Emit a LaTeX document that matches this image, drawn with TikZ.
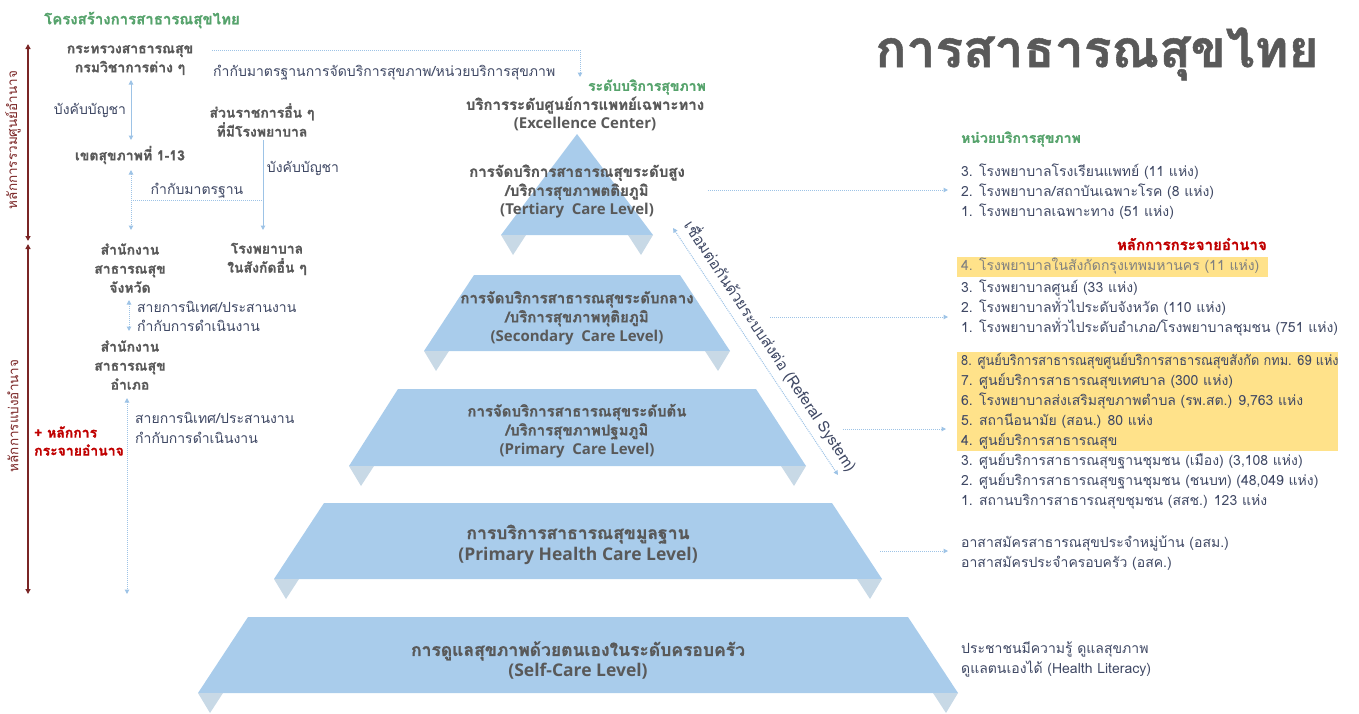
\documentclass[tikz,border=0pt]{standalone}
\usepackage{fontspec}
\newfontfamily\thai[Script=Thai, BoldFeatures={FakeBold=1}]{Loma}
\newfontfamily\latsans{Open Sans}
\usetikzlibrary{arrows.meta}
\definecolor{tierblue}{HTML}{A9CCEB}
\definecolor{tabblue}{HTML}{C8D9E6}
\definecolor{linkblue}{HTML}{9DC3E6}
\definecolor{boldgray}{HTML}{595959}
\definecolor{slate}{HTML}{3F4864}
\definecolor{softgray}{HTML}{808080}
\definecolor{headgreen}{HTML}{56A36C}
\definecolor{headred}{HTML}{C00000}
\definecolor{axisred}{HTML}{7A2525}
\definecolor{marker}{HTML}{FFE28A}
\newcommand{\eng}[1]{{\latsans #1}}
\tikzset{
  every node/.style={inner sep=0pt},
  unitbold/.style={font=\thai\bfseries\fontsize{14}{19}\selectfont, text=boldgray, align=center},
  tiertext/.style={font=\thai\bfseries\fontsize{15}{19}\selectfont, text=boldgray, align=center},
  tierbig/.style={font=\thai\bfseries\fontsize{17.5}{21}\selectfont, text=boldgray, align=center},
  note/.style={font=\thai\fontsize{14}{19.5}\selectfont, text=slate, align=left},
  listtext/.style={font=\thai\fontsize{14}{20}\selectfont, text=slate, align=left, anchor=west},
  greenhead/.style={font=\thai\bfseries\fontsize{14}{18}\selectfont, text=headgreen},
  redhead/.style={font=\thai\bfseries\fontsize{14}{18}\selectfont, text=headred},
  axislabel/.style={font=\thai\fontsize{13.5}{18}\selectfont, text=axisred, rotate=90},
  solidlink/.style={draw=linkblue, line width=1pt},
  dotlink/.style={draw=linkblue, line width=1pt, dash pattern=on 1pt off 1pt},
  tip/.style={-{Triangle[length=4.5pt,width=4.5pt]}},
  twotips/.style={{Triangle[length=4.5pt,width=4.5pt]}-{Triangle[length=4.5pt,width=4.5pt]}},
  axis/.style={draw=axisred, line width=1.3pt, {Triangle[length=5pt,width=5pt]}-{Triangle[length=5pt,width=5pt]}},
}
\begin{document}
\begin{tikzpicture}[x=1pt,y=-1pt]
\useasboundingbox (0,0) rectangle (1359,713);

% ---------- pyramid tiers ----------
\newcommand{\tabs}[3]{% left x, right x, base y
  \fill[tabblue] (#1,#3) -- (#1+25,#3) -- (#1+12,#3+20) -- cycle;
  \fill[tabblue] (#2-25,#3) -- (#2,#3) -- (#2-12,#3+20) -- cycle;}
\fill[tierblue] (577,134) -- (653,235) -- (501,235) -- cycle;
\tabs{501}{653}{235}
\fill[tierblue] (474,275) -- (680,275) -- (730,351) -- (424,351) -- cycle;
\tabs{424}{730}{351}
\fill[tierblue] (398,389) -- (756,389) -- (806,466) -- (349,466) -- cycle;
\tabs{349}{806}{466}
\fill[tierblue] (324,503) -- (832,503) -- (882,579) -- (274,579) -- cycle;
\tabs{274}{882}{579}
\fill[tierblue] (248,617) -- (908,617) -- (958,693) -- (198,693) -- cycle;
\tabs{198}{958}{693}

% ---------- tier labels ----------
\node[tiertext] (t1) at (577,191.5) {การจัดบริการสาธารณสุขระดับสูง\\/บริการสุขภาพตติยภูมิ\\\eng{(Tertiary\ \ Care Level)}};
\node[tiertext] (t2) at (577,318) {การจัดบริการสาธารณสุขระดับกลาง\\/บริการสุขภาพทุติยภูมิ\\\eng{(Secondary\ \ Care Level)}};
\node[tiertext] (t3) at (577,431) {การจัดบริการสาธารณสุขระดับต้น\\/บริการสุขภาพปฐมภูมิ\\\eng{(Primary\ \ Care Level)}};
\node[tierbig] (t4) at (578,544.5) {การบริการสาธารณสุขมูลฐาน\\\eng{(Primary Health Care Level)}};
\node[tierbig] (t5) at (578,660.5) {การดูแลสุขภาพด้วยตนเองในระดับครอบครัว\\\eng{(Self-Care Level)}};

\node[greenhead, anchor=east] (levels) at (706,87) {ระดับบริการสุขภาพ};
\node[tiertext] (excel) at (585,114) {บริการระดับศูนย์การแพทย์เฉพาะทาง\\\eng{(Excellence Center)}};

% ---------- title ----------
\node[font=\thai\bfseries\fontsize{51.5}{55}\selectfont, text=boldgray] (title) at (1097,54) {การสาธารณสุขไทย};

% ---------- left: structure ----------
\node[greenhead, font=\thai\bfseries\fontsize{15}{18}\selectfont] (struct) at (142,20) {โครงสร้างการสาธารณสุขไทย};
\node[unitbold] (moph) at (130,60) {กระทรวงสาธารณสุข\\กรมวิชาการต่าง ๆ};
\node[unitbold] (region) at (130,155) {เขตสุขภาพที่ 1-13};
\node[unitbold] (other) at (262,120) {ส่วนราชการอื่น ๆ\\ที่มีโรงพยาบาล};
\node[unitbold] (prov) at (130,268) {สำนักงาน\\สาธารณสุข\\จังหวัด};
\node[unitbold] (otherhosp) at (267,259) {โรงพยาบาล\\ในสังกัดอื่น ๆ};
\node[unitbold] (dist) at (130,365) {สำนักงาน\\สาธารณสุข\\อำเภอ};

\node[note, anchor=center] (cmd1) at (90,110) {บังคับบัญชา};
\node[note, anchor=center] (cmd2) at (303,168) {บังคับบัญชา};
\node[note, anchor=center] (std) at (197,191) {กำกับมาตรฐาน};
\node[note, anchor=west] (sup1) at (137,316.5) {สายการนิเทศ/ประสานงาน\\กำกับการดำเนินงาน};
\node[note, anchor=west] (sup2) at (135,428) {สายการนิเทศ/ประสานงาน\\กำกับการดำเนินงาน};
\node[redhead, align=left, anchor=west] (decent) at (34,441) {+ หลักการ\\กระจายอำนาจ};
\node[note, anchor=west] (stdsvc) at (213,73) {กำกับมาตรฐานการจัดบริการสุขภาพ/หน่วยบริการสุขภาพ};

% links of the structure
\coordinate (a1) at (131,80);  \coordinate (a2) at (131,140);
\draw[solidlink, twotips] (a1) -- (a2);
\coordinate (b1) at (131,170); \coordinate (b2) at (131,230);
\draw[dotlink, twotips] (b1) -- (b2);
\coordinate (c1) at (263,140); \coordinate (c2) at (263,230);
\draw[solidlink, tip] (c1) -- (c2);
\coordinate (h1) at (131,200); \coordinate (h2) at (263,200);
\draw[dotlink] (h1) -- (h2);
\coordinate (d1) at (129,300); \coordinate (d2) at (129,331);
\draw[dotlink, twotips] (d1) -- (d2);
\coordinate (e1) at (127,398); \coordinate (e2) at (127,594);
\draw[dotlink, twotips] (e1) -- (e2);
\coordinate (topstart) at (212,50); \coordinate (topend) at (580,77);
\draw[dotlink, tip] (topstart) -| (topend);

% centralisation / decentralisation axis
\coordinate (ax1) at (28,44); \coordinate (axmid1) at (28,241);
\coordinate (axmid2) at (28,244); \coordinate (ax2) at (28,594);
\draw[axis] (ax1) -- (axmid1);
\draw[axis] (axmid2) -- (ax2);
\node[axislabel] (central) at (13,140) {หลักการรวมศูนย์อำนาจ};
\node[axislabel] (divide) at (13,416) {หลักการแบ่งอำนาจ};

% ---------- referral system ----------
\coordinate (ref1) at (673,228); \coordinate (ref2) at (838,475);
\draw[dotlink, twotips] (ref1) -- (ref2);
\node[font=\thai\fontsize{15.5}{18}\selectfont, text=slate, rotate=-56.3] (referal) at (771,346) {เชื่อมต่อกันด้วยระบบส่งต่อ (Referal System)};

% ---------- right: service units ----------
\fill[marker] (957,257) rectangle (1268,277);
\fill[marker] (957,352) rectangle (1338,451);

\node[greenhead, anchor=west] (units) at (961,139) {หน่วยบริการสุขภาพ};
\node[listtext] (list1) at (961,191.5) {3. โรงพยาบาลโรงเรียนแพทย์ (11 แห่ง)\\2. โรงพยาบาล/สถาบันเฉพาะโรค (8 แห่ง)\\1. โรงพยาบาลเฉพาะทาง (51 แห่ง)};
\node[redhead, font=\thai\bfseries\fontsize{15}{18}\selectfont, anchor=east] (decent2) at (1267,244) {หลักการกระจายอำนาจ};
\node[listtext, text=softgray] (bkk) at (961,266) {4. โรงพยาบาลในสังกัดกรุงเทพมหานคร (11 แห่ง)};
\node[listtext] (list2) at (961,308) {3. โรงพยาบาลศูนย์ (33 แห่ง)\\2. โรงพยาบาลทั่วไประดับจังหวัด (110 แห่ง)\\1. โรงพยาบาลทั่วไประดับอำเภอ/โรงพยาบาลชุมชน (751 แห่ง)};
\node[listtext] (list3) at (961,431.5) {\scalebox{0.91}[1]{8. ศูนย์บริการสาธารณสุขศูนย์บริการสาธารณสุขสังกัด กทม. 69 แห่ง}\\7. ศูนย์บริการสาธารณสุขเทศบาล (300 แห่ง)\\6. โรงพยาบาลส่งเสริมสุขภาพตำบล (รพ.สต.) 9,763 แห่ง\\5. สถานีอนามัย (สอน.) 80 แห่ง\\4. ศูนย์บริการสาธารณสุข\\3. ศูนย์บริการสาธารณสุขฐานชุมชน (เมือง) (3,108 แห่ง)\\2. ศูนย์บริการสาธารณสุขฐานชุมชน (ชนบท) (48,049 แห่ง)\\1. สถานบริการสาธารณสุขชุมชน (สสช.) 123 แห่ง};
\node[listtext] (list4) at (961,553.5) {อาสาสมัครสาธารณสุขประจำหมู่บ้าน (อสม.)\\อาสาสมัครประจำครอบครัว (อสค.)};
\node[listtext] (list5) at (961,659) {ประชาชนมีความรู้ ดูแลสุขภาพ\\ดูแลตนเองได้ (Health Literacy)};

% tier-to-unit links
\coordinate (t1r) at (708,190);
\coordinate (t2r) at (770,317);
\coordinate (t3r) at (843,429);
\coordinate (t4r) at (880,551);
\draw[dotlink, tip, shorten >=13pt] (t1r) -- (t1r -| list1.west);
\draw[dotlink, tip, shorten >=13pt] (t2r) -- (t2r -| list2.west);
\draw[dotlink, tip, shorten >=15pt] (t3r) -- (t3r -| list3.west);
\draw[dotlink, tip, shorten >=13pt] (t4r) -- (t4r -| list4.west);
\end{tikzpicture}
\end{document}
